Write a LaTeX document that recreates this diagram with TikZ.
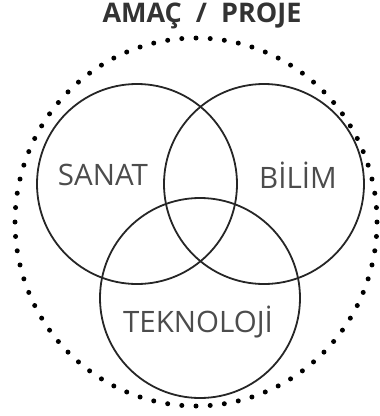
\documentclass[tikz,border=0pt]{standalone}
\usepackage{fontspec}
\setmainfont{Open Sans}
\begin{document}
\begin{tikzpicture}[x=1pt,y=-1pt,
  venn/.style={circle,draw=black!85,line width=1.8pt,minimum size=200pt,inner sep=0pt},
  lbl/.style={text=black!70,font=\fontsize{29.5}{31}\selectfont,inner sep=0pt},
  ttl/.style={text=black!80,font=\bfseries\fontsize{27}{29}\selectfont,inner sep=0pt}]
\useasboundingbox (0,0) rectangle (380,416);
\foreach \i in {0,...,79}
  \fill[black] ({196+181*cos(\i*4.5)},{222+184*sin(\i*4.5)}) circle (2.5);
\node[venn] (sanat) at (137,184) {};
\node[venn] (bilim) at (264,184) {};
\node[venn] (tekno) at (200,298) {};
\node[lbl] (tsanat) at (103,175) {SANAT};
\node[lbl] (tbilim) at (298,175) {BİLİM};
\node[lbl] (ttekno) at (198,322) {TEKNOLOJİ};
\node[ttl] (title) at (202,16) {AMAÇ\ \ /\ \ PROJE};
\end{tikzpicture}
\end{document}
